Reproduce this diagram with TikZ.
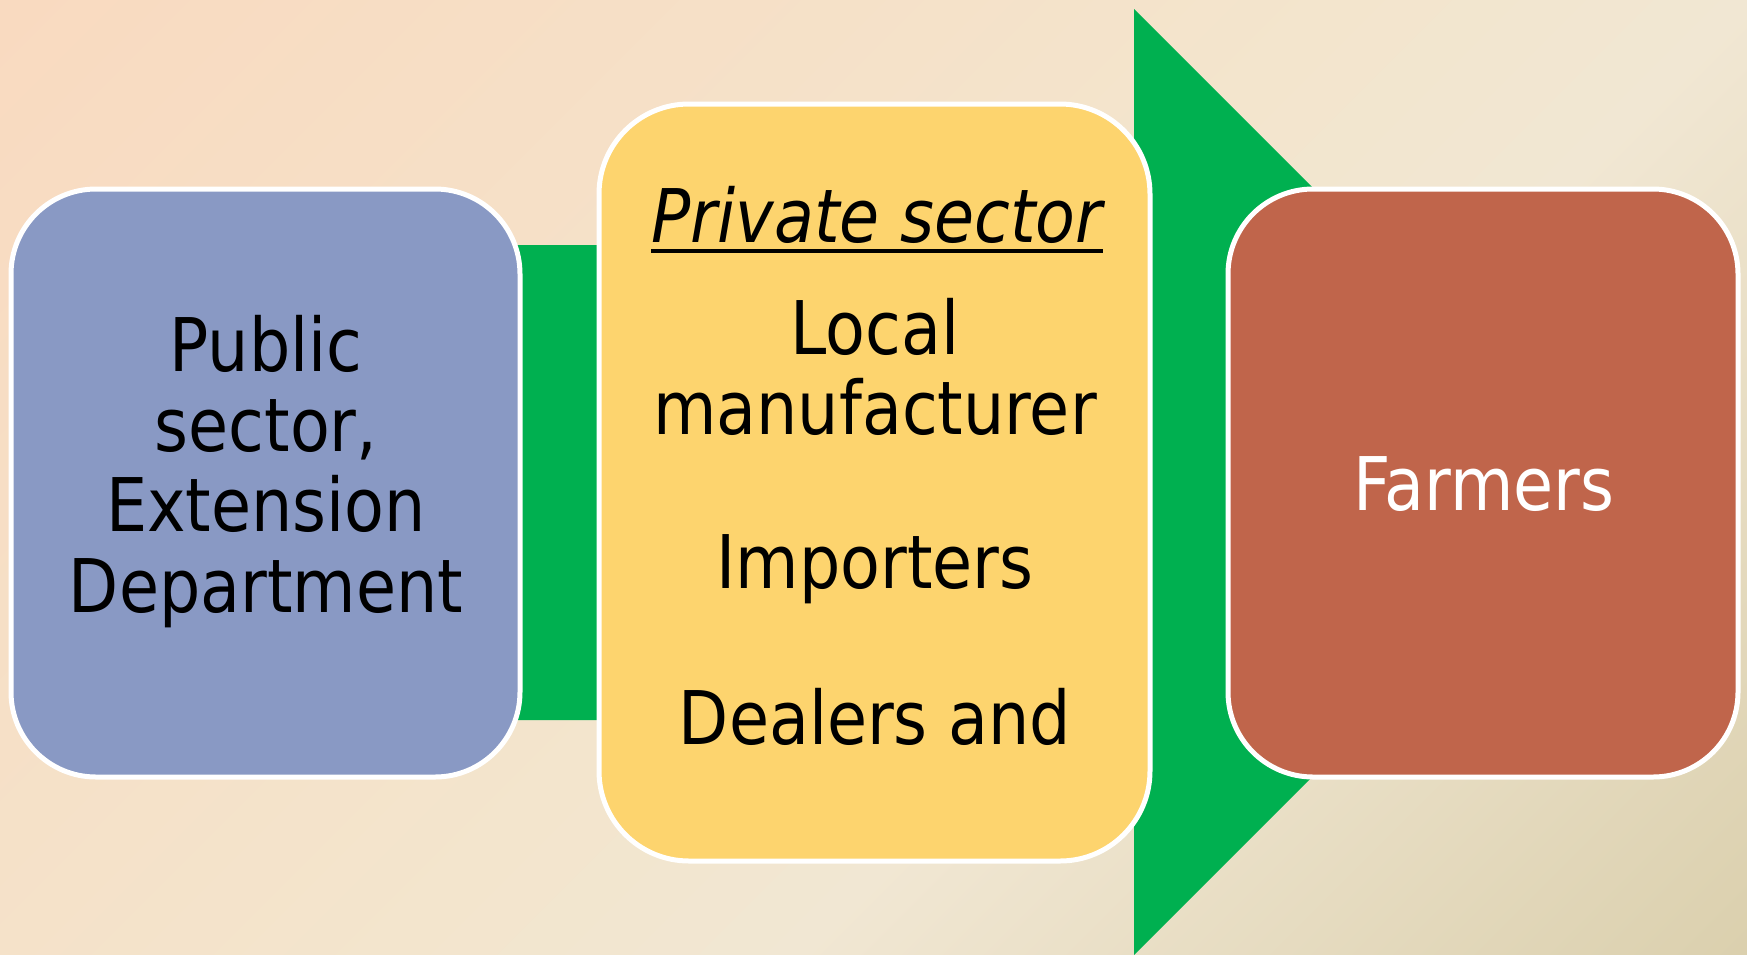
\documentclass[tikz,border=0pt]{standalone}
\usepackage{fontspec}
\setmainfont{DejaVu Sans}[FakeStretch=0.88]
\definecolor{bgpeach}{HTML}{F9DAC0}
\definecolor{bgcream}{HTML}{F1E7D3}
\definecolor{bgcreamb}{HTML}{F3E5CD}
\definecolor{bgtan}{HTML}{DBD0AE}
\definecolor{arrgreen}{HTML}{00B050}
\definecolor{boxblue}{HTML}{8999C4}
\definecolor{boxyellow}{HTML}{FDD46E}
\definecolor{boxred}{HTML}{C0654B}
\pgfdeclareverticalshading{bgshade}{100bp}{color(0bp)=(bgtan); color(14.6bp)=(bgtan); color(39.4bp)=(bgcream); color(50bp)=(bgcreamb); color(85.4bp)=(bgpeach); color(100bp)=(bgpeach)}
\tikzset{
  card/.style={draw=white, line width=5pt, rounded corners=85pt, inner sep=0pt},
  bigtext/.style={font=\fontsize{74}{80}\selectfont, inner sep=0pt, anchor=base},
}
\begin{document}
\begin{tikzpicture}[x=1pt,y=-1pt]
\useasboundingbox (0,0) rectangle (1747,954);
\shade[shading=bgshade, shading angle=45] (0,0) rectangle (1747,954);
% arrow
\fill[arrgreen] (400,245) -- (1134,245) -- (1134,9) -- (1607,482) -- (1134,955) -- (1134,720) -- (400,720) -- cycle;
% boxes
\node[card, fill=boxblue, minimum width=509pt, minimum height=588pt] (pub) at (265.5,483) {};
\node[card, fill=boxyellow, rounded corners=90pt, minimum width=551pt, minimum height=757pt] (priv) at (874.5,482.5) {};
\node[card, fill=boxred, minimum width=510pt, minimum height=588pt] (farm) at (1483,483) {};
% blue text
\node[bigtext] (t1) at (266,371) {Public};
\node[bigtext] (t2) at (266,451) {sector,};
\node[bigtext] (t3) at (266,531) {Extension};
\node[bigtext] (t4) at (266,612) {Department};
% yellow text
\node[bigtext, font=\fontsize{74}{80}\selectfont\itshape] (ps) at (877,242) {Private sector};
\draw[line width=4.5pt] ([yshift=-9pt]ps.base west) -- ([yshift=-9pt]ps.base east);
\node[bigtext] (y1) at (875,354) {Local};
\node[bigtext] (y2) at (875,434) {manufacturer};
\node[bigtext] (y3) at (875,588) {Importers};
\node[bigtext] (y4) at (875,744) {Dealers and};
% red text
\node[bigtext, text=white] (f1) at (1484,510) {Farmers};
\end{tikzpicture}
\end{document}
